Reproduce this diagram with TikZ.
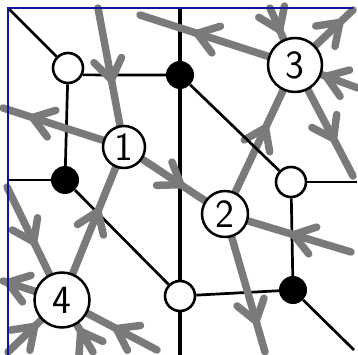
\documentclass[tikz,border=0pt]{standalone}
\usetikzlibrary{decorations.markings}
\definecolor{qgray}{RGB}{122,122,122}
\definecolor{frameblue}{RGB}{20,20,150}
\pgfdeclarelayer{back}
\pgfsetlayers{back,main}
\begin{document}
\begin{tikzpicture}[x=1pt,y=-1pt,
  edge/.style={line width=2.7pt, black},
  spine/.style={line width=3.2pt, black},
  wnode/.style={circle, draw, line width=2.6pt, fill=white, minimum size=30pt, inner sep=0pt},
  bnode/.style={circle, fill=black, minimum size=28pt, inner sep=0pt},
  qnode/.style={circle, draw, line width=2.5pt, fill=white, inner sep=0pt,
    font=\sffamily\fontsize{40}{40}\selectfont},
  qline/.style={draw=qgray, line width=7.5pt, line cap=round},
  qhead/.style={qline, postaction={decorate, decoration={markings,
    mark=at position #1 with {\draw[qgray, line width=7.5pt, line cap=round, line join=round]
      (-20pt,14pt) -- (0pt,0pt) -- (-20pt,-14pt);}}}}
]
\useasboundingbox (0,0) rectangle (358,355);

% fundamental domain (left and top sides)
\draw[frameblue, line width=1.8pt] (8,355) -- (8,8) -- (353,8);

% bipartite vertices
\node[wnode] (W1) at (68,68) {};
\node[bnode] (B1) at (180,75) {};
\node[bnode] (B2) at (65,180) {};
\node[wnode] (W2) at (291,182) {};
\node[wnode] (W3) at (180,296) {};
\node[bnode] (B3) at (293,290) {};

% quiver nodes
\node[qnode, minimum size=42pt] (Q1) at (124,147) {1};
\node[qnode, minimum size=46pt] (Q2) at (225,214) {2};
\node[qnode, minimum size=54pt] (Q3) at (295,65) {3};
\node[qnode, minimum size=55pt] (Q4) at (62,300) {4};

% edge ends on the boundary
\coordinate (tl) at (8,8);
\coordinate (br) at (354,350);
\coordinate (vtop) at (180,8);
\coordinate (vbot) at (180,356);
\coordinate (hl) at (8,180);
\coordinate (hr) at (357,182);

% arrow ends on the boundary
\coordinate (a1) at (98,8);
\coordinate (a2) at (3,108);
\coordinate (a6) at (140,15);
\coordinate (a7) at (270,8);
\coordinate (a8) at (353,10);
\coordinate (a9) at (358,88);
\coordinate (a10) at (353,176);
\coordinate (a11) at (351,252);
\coordinate (a12) at (265,352);
\coordinate (a13) at (7,187);
\coordinate (a14) at (3,281);
\coordinate (a15) at (8,352);
\coordinate (a16) at (93,352);
\coordinate (a17) at (157,350);

\begin{pgfonlayer}{back}
  % tiling edges
  \draw[spine] (vtop) -- (vbot);
  \draw[edge] (tl) -- (W1);
  \draw[edge] (W1.-25) -- (B1);
  \draw[edge] (W1) -- (B2);
  \draw[edge] (hl) -- (B2);
  \draw[edge] (B2) -- (W3);
  \draw[edge] (W3) -- (B3);
  \draw[edge] (W2) -- (B3);
  \draw[edge] (W2) -- (hr);
  \draw[edge] (B3) -- (br);

  % quiver arrows
  \draw[qhead=73pt] (a1) -- (Q1);
  \draw[qhead=-31pt] (Q1) -- (a2);
  \draw[qhead=46pt] (Q1) -- (Q2);
  \draw[qhead=67pt] (Q4) -- (Q1);
  \draw[qhead=71pt] (Q2) -- (Q3);
  \draw[qhead=-60pt] (Q3) -- (a6);
  \draw[qhead=24pt] (a7) -- (Q3);
  \draw[qhead=-18pt] (Q3) -- (a8);
  \draw[qhead=34pt] (a9) -- (Q3);
  \draw[qhead=-42pt] (Q3) -- (a10);
  \draw[qhead=60pt] (a11) -- (Q2);
  \draw[qhead=-32pt] (Q2) -- (a12);
  \draw[qhead=61pt] (a13) -- (Q4);
  \draw[qhead=-5pt] (Q4) -- (a14);
  \draw[qhead=37pt] (a15) -- (Q4);
  \draw[qhead=24pt] (a16) -- (Q4);
  \draw[qhead=46pt] (a17) -- (Q4);

  % this edge runs over the arrow from 2 to 3
  \draw[edge] (B1) -- (W2);
\end{pgfonlayer}
\end{tikzpicture}
\end{document}
